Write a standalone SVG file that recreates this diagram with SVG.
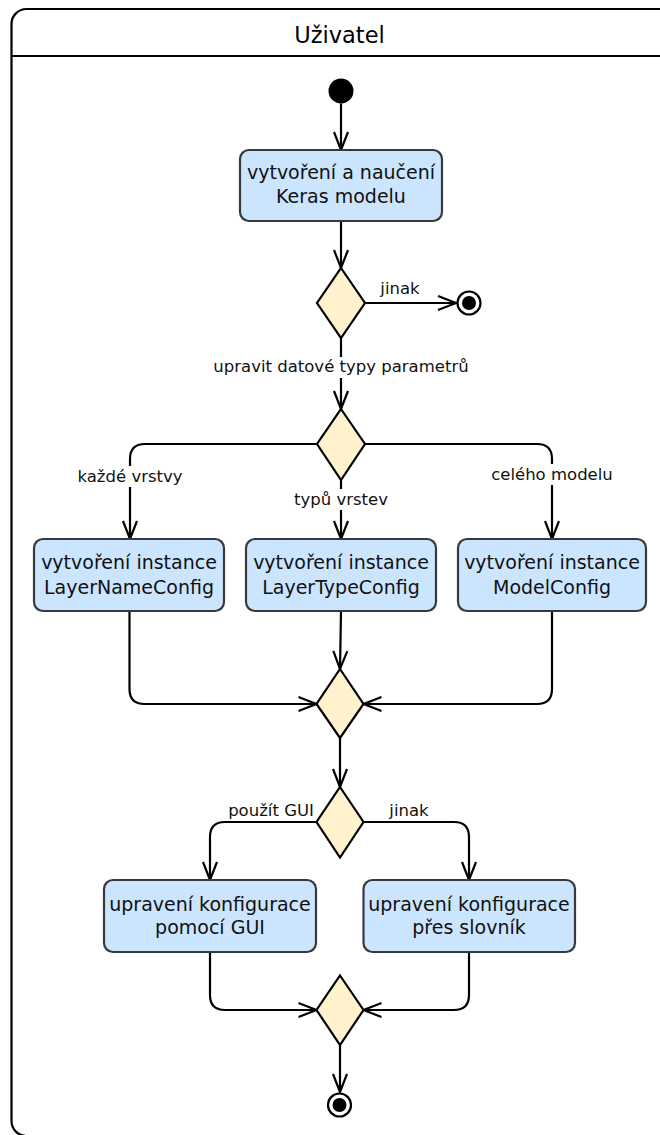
<svg xmlns="http://www.w3.org/2000/svg" width="660" height="1135" viewBox="0 0 660 1135">
  <defs>
    <marker id="open-arrow" markerUnits="userSpaceOnUse" markerWidth="24" markerHeight="20" viewBox="-20 -10 22 20" refX="0" refY="0" orient="auto" overflow="visible">
      <path d="M-18,-7 L0,0 L-18,7" fill="none" stroke="#000" stroke-width="2.2" stroke-linejoin="miter"/>
    </marker>
  </defs>
  <style>
    text { font-family: "DejaVu Sans", Verdana, sans-serif; fill: #000; }
    .title { font-size: 22.5px; text-anchor: middle; }
    .act rect { fill: #cce5ff; stroke: #36393d; stroke-width: 2.2; }
    .act text { font-size: 19px; text-anchor: middle; fill: #111; }
    .dec polygon { fill: #fff2cc; stroke: #000; stroke-width: 2.2; stroke-linejoin: miter; }
    .edges path { fill: none; stroke: #000; stroke-width: 2.2; marker-end: url(#open-arrow); }
    .lbl rect { fill: #fff; }
    .lbl text { font-size: 16.5px; text-anchor: middle; fill: #111; }
  </style>

  <!-- swimlane -->
  <g id="lane">
    <rect x="11.5" y="9" width="664" height="1127" rx="15" ry="15" fill="#fff" stroke="#000" stroke-width="2.2"/>
    <line x1="11.5" y1="56" x2="672" y2="56" stroke="#000" stroke-width="2.2"/>
    <text class="title" x="339.5" y="43">Uživatel</text>
  </g>

  <!-- connectors -->
  <g id="edges" class="edges">
    <path d="M341,103.5 V150"/>
    <path d="M341,221 V268"/>
    <path d="M365,303 H456"/>
    <path d="M341,338 V409"/>
    <path d="M317,444 H145 Q130,444 130,459 V539"/>
    <path d="M341,480 V539"/>
    <path d="M365,444 H537 Q552,444 552,459 V539"/>
    <path d="M129.5,611 V689 Q129.5,704 144.5,704 H316.5"/>
    <path d="M341,611 L340,669"/>
    <path d="M552,611 V689 Q552,704 537,704 H363.5"/>
    <path d="M340,738 V787"/>
    <path d="M317,822 H225 Q210,822 210,837 V880"/>
    <path d="M363,822 H454 Q469,822 469,837 V880"/>
    <path d="M210,952 V995 Q210,1010 225,1010 H316.5"/>
    <path d="M469,952 V995 Q469,1010 454,1010 H363.5"/>
    <path d="M340,1045 V1092"/>
  </g>

  <!-- edge labels -->
  <g id="edge-labels" class="lbl">
    <text x="400" y="294">jinak</text>
    <rect x="212" y="357" width="258" height="21"/>
    <text x="341" y="372">upravit datové typy parametrů</text>
    <rect x="76" y="466" width="108" height="21"/>
    <text x="130" y="482">každé vrstvy</text>
    <rect x="294" y="489" width="94" height="21"/>
    <text x="341" y="505">typů vrstev</text>
    <rect x="491" y="464" width="122" height="21"/>
    <text x="552" y="480">celého modelu</text>
    <text x="271" y="815.5">použít GUI</text>
    <text x="409" y="815.5">jinak</text>
  </g>

  <!-- start -->
  <g id="start">
    <circle cx="341" cy="91" r="12.5" fill="#000"/>
  </g>

  <!-- actions and decisions -->
  <g id="act-train" class="act">
    <rect x="240" y="150" width="202" height="71" rx="9"/>
    <text x="341" y="179">vytvoření a naučení</text>
    <text x="341" y="203">Keras modelu</text>
  </g>
  <g id="dec-edit" class="dec">
    <polygon points="341,268 365,303 341,338 317,303"/>
  </g>
  <g id="end-early">
    <circle cx="469" cy="303" r="11.5" fill="#fff" stroke="#000" stroke-width="2.2"/>
    <circle cx="469" cy="303" r="7" fill="#000"/>
  </g>
  <g id="dec-scope" class="dec">
    <polygon points="341,409 365,444 341,480 317,444"/>
  </g>
  <g id="act-layername" class="act">
    <rect x="34" y="539" width="190" height="72" rx="9"/>
    <text x="129" y="569">vytvoření instance</text>
    <text x="129" y="594">LayerNameConfig</text>
  </g>
  <g id="act-layertype" class="act">
    <rect x="246" y="539" width="190" height="72" rx="9"/>
    <text x="341" y="569">vytvoření instance</text>
    <text x="341" y="594">LayerTypeConfig</text>
  </g>
  <g id="act-model" class="act">
    <rect x="458" y="539" width="188" height="72" rx="9"/>
    <text x="552" y="569">vytvoření instance</text>
    <text x="552" y="594">ModelConfig</text>
  </g>
  <g id="merge-scope" class="dec">
    <polygon points="340,669 363.5,704 340,738 316.5,704"/>
  </g>
  <g id="dec-gui" class="dec">
    <polygon points="340,787 363.5,822 340,857.5 316.5,822"/>
  </g>
  <g id="act-gui" class="act">
    <rect x="104" y="880" width="212" height="72" rx="9"/>
    <text x="210" y="910.5">upravení konfigurace</text>
    <text x="210" y="934">pomocí GUI</text>
  </g>
  <g id="act-dict" class="act">
    <rect x="363.5" y="880" width="211.5" height="72" rx="9"/>
    <text x="469" y="910.5">upravení konfigurace</text>
    <text x="469" y="934">přes slovník</text>
  </g>
  <g id="merge-gui" class="dec">
    <polygon points="340,975.5 363.5,1010 340,1045 316.5,1010"/>
  </g>
  <g id="end">
    <circle cx="339.5" cy="1105" r="11.5" fill="#fff" stroke="#000" stroke-width="2.2"/>
    <circle cx="339.5" cy="1105" r="7" fill="#000"/>
  </g>
</svg>
